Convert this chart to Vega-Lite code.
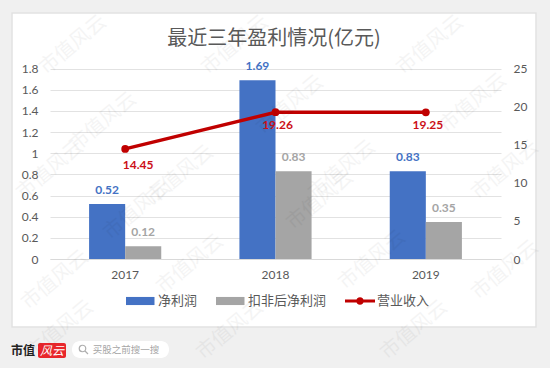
{
"$schema":"https://vega.github.io/schema/vega-lite/v6.json",
"width":524,"height":314,
"autosize":{"type":"none"},
"padding":{"left":12,"top":13,"right":14,"bottom":41},
"background":"#f0f0f0",
"view":{"fill":"#ffffff","stroke":"#e2e2e2","strokeWidth":1.5},
"config":{"font":"Lato, 'Noto Sans CJK SC'"},
"title":{"text":"最近三年盈利情况(亿元)","font":"'Noto Sans CJK SC'","fontSize":20,"fontWeight":"normal","color":"#595959","anchor":"middle","offset":-37},
"datasets":{
"bars":[
{"year":"2017","series":"净利润","value":0.52},
{"year":"2017","series":"扣非后净利润","value":0.12},
{"year":"2018","series":"净利润","value":1.69},
{"year":"2018","series":"扣非后净利润","value":0.83},
{"year":"2019","series":"净利润","value":0.83},
{"year":"2019","series":"扣非后净利润","value":0.35}],
"revenue":[
{"year":"2017","series":"营业收入","value":14.45},
{"year":"2018","series":"营业收入","value":19.26},
{"year":"2019","series":"营业收入","value":19.25}],
"wm":[
{"u":7.3,"v":4.5,"label":"市值风云"},{"u":23.5,"v":4.5,"label":"市值风云"},{"u":43,"v":4.5,"label":"市值风云"},
{"u":10.3,"v":12.2,"label":"市值风云"},{"u":29,"v":10.5,"label":"市值风云"},{"u":47.3,"v":10.3,"label":"市值风云"},
{"u":5,"v":17,"label":"市值风云"},{"u":18,"v":17.5,"label":"市值风云"},{"u":34.2,"v":17,"label":"市值风云"},{"u":50.5,"v":17,"label":"市值风云"},
{"u":13.7,"v":21,"label":"市值风云"},{"u":32,"v":20,"label":"市值风云"},
{"u":5.5,"v":28,"label":"市值风云"},{"u":19,"v":26.4,"label":"市值风云"},{"u":37.2,"v":26,"label":"市值风云"},{"u":50.5,"v":27,"label":"市值风云"},
{"u":6,"v":33,"label":"市值风云"},{"u":23,"v":33,"label":"市值风云"},{"u":41.4,"v":33,"label":"市值风云"}]
},
"resolve":{"scale":{"x":"independent","y":"independent"},"axis":{"x":"independent","y":"independent"}},
"layer":[
{"data":{"name":"bars"},
 "encoding":{
  "x":{"field":"year","type":"nominal","title":null,
   "scale":{"type":"band","range":[38,489],"paddingInner":0.52,"paddingOuter":0.26},
   "axis":{"orient":"bottom","offset":-68,"labelAngle":0,"labelPadding":10,"labelFontSize":12,"labelColor":"#595959","ticks":false,"domainColor":"#d9d9d9","domainWidth":1,"grid":false}},
  "xOffset":{"field":"series","type":"nominal","scale":{"domain":["净利润","扣非后净利润"]}},
  "y":{"field":"value","type":"quantitative","title":null,
   "scale":{"domain":[0,1.8],"range":[246,55.5],"nice":false},
   "axis":{"orient":"left","offset":-38,"values":[0,0.2,0.4,0.6,0.8,1,1.2,1.4,1.6,1.8],"format":"~g","labelPadding":12,"labelFontSize":12,"labelColor":"#595959","ticks":false,"domain":false,"grid":true,"gridColor":"#e2e2e2","gridWidth":1}}
 },
 "layer":[
  {"mark":{"type":"bar"},
   "encoding":{"color":{"field":"series","type":"nominal","scale":{"domain":["净利润","扣非后净利润","营业收入"],"range":["#4472c4","#a5a5a5","#c00000"]},
    "legend":{"title":null,"orient":"none","legendX":114,"legendY":273,"direction":"horizontal","columns":3,"symbolSize":900,"symbolStrokeWidth":0,"labelOffset":2,"columnPadding":18,"labelFontSize":13,"labelColor":"#595959","labelFont":"'Noto Sans CJK SC'",
     "encode":{"symbols":{"update":{"shape":{"signal":"datum.value==='营业收入'?'M-1,-0.1H1V0.1H-1Z M0.25,0A0.25,0.25 0 1 1 -0.25,0A0.25,0.25 0 1 1 0.25,0Z':'M-1,-0.27H0.9V0.27H-1Z'"}}}}}}}},
  {"transform":[{"filter":"datum.series==='净利润'"}],
   "mark":{"type":"text","dy":-14,"fontWeight":"bold","fontSize":12,"color":"#4472c4"},
   "encoding":{"text":{"field":"value","type":"quantitative","format":".2f"}}},
  {"transform":[{"filter":"datum.series==='扣非后净利润'"}],
   "mark":{"type":"text","dy":-14,"fontWeight":"bold","fontSize":12,"color":"#a5a5a5"},
   "encoding":{"text":{"field":"value","type":"quantitative","format":".2f"}}}
 ]},
{"data":{"name":"revenue"},
 "encoding":{
  "x":{"field":"year","type":"nominal","scale":{"type":"band","range":[38,489],"paddingInner":0.52,"paddingOuter":0.26},"axis":null},
  "y":{"field":"value","type":"quantitative","title":null,
   "scale":{"domain":[0,25],"range":[246,55.5],"nice":false},
   "axis":{"orient":"right","offset":-35,"values":[0,5,10,15,20,25],"labelPadding":12,"labelFontSize":12,"labelColor":"#595959","ticks":false,"domain":false,"grid":false}}
 },
 "layer":[
  {"mark":{"type":"line","strokeWidth":3.5,"color":"#c00000","strokeCap":"round","point":{"size":60,"filled":true,"color":"#c00000"}}},
  {"transform":[{"filter":"datum.year==='2017'"}],
   "mark":{"type":"text","dy":16,"dx":13,"fontWeight":"bold","fontSize":12,"color":"#cc1018"},
   "encoding":{"text":{"field":"value","type":"quantitative","format":".2f"}}},
  {"transform":[{"filter":"datum.year!=='2017'"}],
   "mark":{"type":"text","dy":13,"dx":2,"fontWeight":"bold","fontSize":12,"color":"#cc1018"},
   "encoding":{"text":{"field":"value","type":"quantitative","format":".2f"}}}
 ]},
{"encoding":{
  "x":{"field":"u","type":"quantitative","scale":{"domain":[0,55],"range":[-12,538],"nice":false,"zero":false},"axis":null},
  "y":{"field":"v","type":"quantitative","scale":{"domain":[0,36.8],"range":[-13,355],"nice":false,"zero":false},"axis":null}
 },
 "layer":[
  {"data":{"values":[{"u":7.2,"u2":16.9,"v":34.1,"v2":35.8}]},
   "mark":{"type":"rect","color":"#ffffff","cornerRadius":8},
   "encoding":{"x2":{"field":"u2"},"y2":{"field":"v2"}}},
  {"data":{"values":[{"u":3.8,"u2":6.6,"v":34.3,"v2":35.8}]},
   "mark":{"type":"rect","color":"#e8262b","cornerRadius":2},
   "encoding":{"x2":{"field":"u2"},"y2":{"field":"v2"}}},
  {"data":{"values":[{"u":2.3,"v":35.1,"label":"市值"}]},
   "mark":{"type":"text","font":"'Noto Sans CJK SC'","fontSize":12,"fontWeight":"bold","color":"#222222"},
   "encoding":{"text":{"field":"label"}}},
  {"data":{"values":[{"u":5.2,"v":35.05,"label":"风云"}]},
   "mark":{"type":"text","font":"'Noto Sans CJK SC'","fontSize":12,"fontStyle":"italic","color":"#ffffff"},
   "encoding":{"text":{"field":"label"}}},
  {"data":{"values":[{"u":12.6,"v":35,"label":"买股之前搜一搜"}]},
   "mark":{"type":"text","font":"'Noto Sans CJK SC'","fontSize":9.5,"color":"#a6a6a6"},
   "encoding":{"text":{"field":"label"}}},
  {"data":{"values":[{"u":8.35,"v":34.95}]},
   "mark":{"type":"point","shape":"M0.45,-0.2A0.65,0.65 0 1 1 -0.85,-0.2A0.65,0.65 0 1 1 0.45,-0.2M0.3,0.3L0.9,0.9","size":100,"filled":false,"color":"#8c8c8c","strokeWidth":1.2}},
  {"data":{"name":"wm"},
   "mark":{"type":"text","font":"'Noto Sans CJK SC'","fontSize":20,"angle":-40,"color":"#000000","opacity":0.04},
   "encoding":{"text":{"field":"label"}}}
 ]}
]
}
